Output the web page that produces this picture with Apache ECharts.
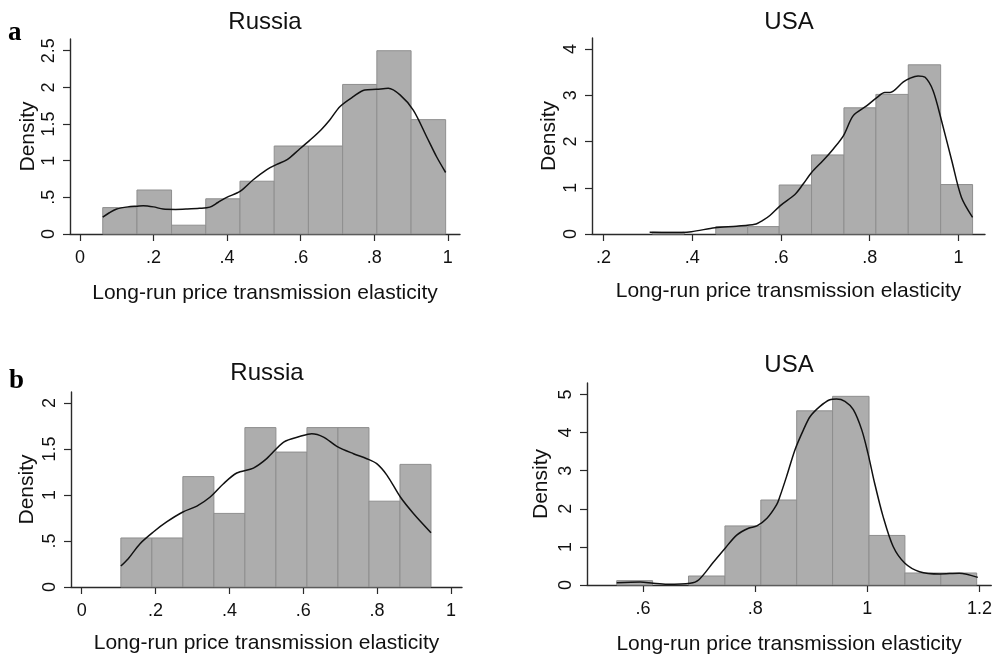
<!DOCTYPE html>
<html>
<head>
<meta charset="utf-8">
<title>Long-run price transmission elasticity</title>
<script src="https://cdn.jsdelivr.net/npm/echarts@6/dist/echarts.min.js"></script>
<style>
  html, body { margin: 0; padding: 0; background: #fff; }
  #main { width: 995px; height: 660px; }
</style>
</head>
<body>
<div id="main"></div>
<script>
// histogram bin edges + densities, kernel density points, per panel
const ruA_edges = [0.062, 0.155, 0.249, 0.342, 0.435, 0.528, 0.621, 0.714, 0.807, 0.900, 0.994];
const ruA_density = [0.36, 0.60, 0.12, 0.48, 0.72, 1.20, 1.20, 2.04, 2.50, 1.56];
const ruA_kde = [[0.062, 0.23], [0.080, 0.29], [0.100, 0.34], [0.130, 0.37], [0.156, 0.38], [0.172, 0.386], [0.200, 0.37],
  [0.226, 0.34], [0.260, 0.335], [0.290, 0.34], [0.325, 0.35], [0.353, 0.367], [0.375, 0.43], [0.399, 0.50], [0.435, 0.58],
  [0.471, 0.74], [0.507, 0.876], [0.535, 0.95], [0.562, 1.01], [0.595, 1.15], [0.625, 1.28], [0.655, 1.42], [0.679, 1.556],
  [0.707, 1.74], [0.743, 1.874], [0.774, 1.965], [0.806, 1.974], [0.838, 1.987], [0.870, 1.897], [0.906, 1.69],
  [0.942, 1.33], [0.969, 1.057], [0.994, 0.839]];

const usA_edges = [0.310, 0.382, 0.453, 0.525, 0.596, 0.669, 0.742, 0.814, 0.887, 0.960, 1.032];
const usA_density = [0.04, 0, 0.16, 0.16, 1.06, 1.71, 2.73, 3.02, 3.66, 1.07];
const usA_kde = [[0.304, 0.036], [0.35, 0.03], [0.398, 0.05], [0.451, 0.137], [0.5, 0.17], [0.541, 0.21], [0.560, 0.30],
  [0.575, 0.40], [0.598, 0.61], [0.632, 0.86], [0.650, 1.08], [0.669, 1.33], [0.695, 1.59], [0.718, 1.84], [0.741, 2.13],
  [0.763, 2.56], [0.793, 2.77], [0.816, 2.95], [0.834, 3.06], [0.846, 3.06], [0.876, 3.29], [0.891, 3.37], [0.909, 3.42],
  [0.925, 3.39], [0.943, 3.10], [0.962, 2.45], [0.985, 1.59], [1.007, 0.79], [1.032, 0.36]];

const ruB_edges = [0.106, 0.190, 0.274, 0.358, 0.442, 0.526, 0.610, 0.694, 0.778, 0.862, 0.946];
const ruB_density = [0.533, 0.533, 1.2, 0.8, 1.733, 1.467, 1.733, 1.733, 0.933, 1.333];
const ruB_kde = [[0.106, 0.228], [0.126, 0.308], [0.158, 0.471], [0.194, 0.598], [0.23, 0.707], [0.274, 0.815],
  [0.312, 0.88], [0.348, 0.978], [0.384, 1.123], [0.42, 1.239], [0.465, 1.293], [0.501, 1.395], [0.547, 1.576],
  [0.592, 1.638], [0.623, 1.667], [0.655, 1.63], [0.691, 1.529], [0.736, 1.449], [0.772, 1.395], [0.799, 1.341],
  [0.827, 1.214], [0.863, 0.978], [0.899, 0.797], [0.946, 0.591]];

const usB_edges = [0.553, 0.617, 0.681, 0.746, 0.810, 0.874, 0.938, 1.003, 1.067, 1.131, 1.195];
const usB_density = [0.114, 0, 0.236, 1.55, 2.23, 4.57, 4.95, 1.30, 0.315, 0.315];
const usB_kde = [[0.553, 0.06], [0.595, 0.079], [0.618, 0.044], [0.643, 0.018], [0.684, 0.044], [0.699, 0.13],
  [0.726, 0.61], [0.746, 0.96], [0.767, 1.31], [0.788, 1.49], [0.803, 1.55], [0.821, 1.75], [0.838, 2.10],
  [0.844, 2.32], [0.856, 2.85], [0.871, 3.55], [0.886, 4.07], [0.898, 4.42], [0.915, 4.68], [0.933, 4.86],
  [0.945, 4.88], [0.960, 4.82], [0.975, 4.60], [0.990, 4.07], [1.001, 3.46], [1.013, 2.67], [1.028, 1.80],
  [1.046, 1.01], [1.067, 0.57], [1.093, 0.35], [1.129, 0.29], [1.164, 0.31], [1.197, 0.20]];

// tick labels
const xTicksRu = [0, 0.2, 0.4, 0.6, 0.8, 1];
const xTicksUsA = [0.2, 0.4, 0.6, 0.8, 1];
const xTicksUsB = [0.6, 0.8, 1, 1.2];
const yTicksRuA = [0, 0.5, 1, 1.5, 2, 2.5];
const yTicksUsA = [0, 1, 2, 3, 4];
const yTicksRuB = [0, 0.5, 1, 1.5, 2];
const yTicksUsB = [0, 1, 2, 3, 4, 5];

const titles = ['Russia', 'USA', 'Russia', 'USA'];
const xName = 'Long-run price transmission elasticity';
const yName = 'Density';

const BAR_FILL = '#adadad';
const BAR_EDGE = '#8e8e8e';
const AXIS_COLOR = '#2a2a2a';
const FONT = '"Liberation Sans", Arial, sans-serif';

const panels = [
  { edges: ruA_edges, dens: ruA_density, kde: ruA_kde, xt: xTicksRu, yt: yTicksRuA,
    grid: { left: 70, top: 39, width: 390, height: 195 }, x: [-0.027, 1.033], y: 2.66, xGap: 49, yGap: 31 },
  { edges: usA_edges, dens: usA_density, kde: usA_kde, xt: xTicksUsA, yt: yTicksUsA,
    grid: { left: 592, top: 38, width: 393, height: 196 }, x: [0.174, 1.06], y: 4.24, xGap: 47, yGap: 32 },
  { edges: ruB_edges, dens: ruB_density, kde: ruB_kde, xt: xTicksRu, yt: yTicksRuB,
    grid: { left: 71, top: 392, width: 391, height: 195 }, x: [-0.029, 1.03], y: 2.12, xGap: 46, yGap: 33 },
  { edges: usB_edges, dens: usB_density, kde: usB_kde, xt: xTicksUsB, yt: yTicksUsB,
    grid: { left: 587, top: 383, width: 405, height: 202 }, x: [0.5, 1.221], y: 5.3, xGap: 49, yGap: 35 },
];

const fmt = (v) => String(+(+v).toFixed(2)).replace(/^0\./, '.');

function renderBin(params, api) {
  const h = api.value(2);
  if (!h) return null;
  const lo = api.coord([api.value(0), 0]);
  const hi = api.coord([api.value(1), h]);
  return {
    type: 'rect',
    shape: { x: lo[0], y: hi[1], width: hi[0] - lo[0], height: lo[1] - hi[1] },
    style: { fill: BAR_FILL, stroke: BAR_EDGE, lineWidth: 1 }
  };
}

const grids = [], xAxes = [], yAxes = [], series = [];
panels.forEach((p, i) => {
  grids.push(Object.assign({ containLabel: false }, p.grid));
  xAxes.push({
    type: 'value', gridIndex: i, min: p.x[0], max: p.x[1],
    name: xName, nameLocation: 'middle', nameGap: p.xGap,
    nameTextStyle: { fontFamily: FONT, fontSize: 21, color: '#111' },
    axisLine: { show: true, onZero: false, lineStyle: { color: AXIS_COLOR, width: 1.4 } },
    axisTick: { show: true, length: 7, customValues: p.xt, lineStyle: { color: AXIS_COLOR, width: 1.2 } },
    axisLabel: { customValues: p.xt, formatter: fmt, margin: 15, fontFamily: FONT, fontSize: 18, color: '#111' },
    splitLine: { show: false }
  });
  yAxes.push({
    type: 'value', gridIndex: i, min: 0, max: p.y,
    name: yName, nameLocation: 'middle', nameGap: p.yGap,
    nameTextStyle: { fontFamily: FONT, fontSize: 21, color: '#111' },
    axisLine: { show: true, onZero: false, lineStyle: { color: AXIS_COLOR, width: 1.4 } },
    axisTick: { show: true, length: 7, customValues: p.yt, lineStyle: { color: AXIS_COLOR, width: 1.2 } },
    axisLabel: { customValues: p.yt, formatter: fmt, rotate: 90, margin: 12, fontFamily: FONT, fontSize: 18, color: '#111' },
    splitLine: { show: false }
  });
  series.push({
    type: 'custom', xAxisIndex: i, yAxisIndex: i,
    renderItem: renderBin,
    encode: { x: [0, 1], y: 2 },
    data: p.dens.map((d, k) => [p.edges[k], p.edges[k + 1], d]),
    z: 2
  });
  series.push({
    type: 'line', xAxisIndex: i, yAxisIndex: i,
    data: p.kde, showSymbol: false, smooth: 0.3,
    lineStyle: { color: '#111', width: 1.5 },
    silent: true, z: 3
  });
});

const graphic = [
  { type: 'text', x: 265, y: 22, style: { text: titles[0], font: '24px ' + FONT, fill: '#111', textAlign: 'center', textVerticalAlign: 'middle', align: 'center', verticalAlign: 'middle' } },
  { type: 'text', x: 789, y: 22, style: { text: titles[1], font: '24px ' + FONT, fill: '#111', textAlign: 'center', textVerticalAlign: 'middle', align: 'center', verticalAlign: 'middle' } },
  { type: 'text', x: 267, y: 373, style: { text: titles[2], font: '24px ' + FONT, fill: '#111', textAlign: 'center', textVerticalAlign: 'middle', align: 'center', verticalAlign: 'middle' } },
  { type: 'text', x: 789, y: 365, style: { text: titles[3], font: '24px ' + FONT, fill: '#111', textAlign: 'center', textVerticalAlign: 'middle', align: 'center', verticalAlign: 'middle' } },
  { type: 'text', x: 8, y: 20, style: { text: 'a', font: 'bold 27px "Liberation Serif", "Times New Roman", serif', fill: '#000' } },
  { type: 'text', x: 9, y: 368, style: { text: 'b', font: 'bold 27px "Liberation Serif", "Times New Roman", serif', fill: '#000' } }
];

const chart = echarts.init(document.getElementById('main'), null, { renderer: 'canvas' });
chart.setOption({
  animation: false,
  backgroundColor: '#fff',
  grid: grids,
  xAxis: xAxes,
  yAxis: yAxes,
  series: series,
  graphic: graphic
});
</script>
</body>
</html>
